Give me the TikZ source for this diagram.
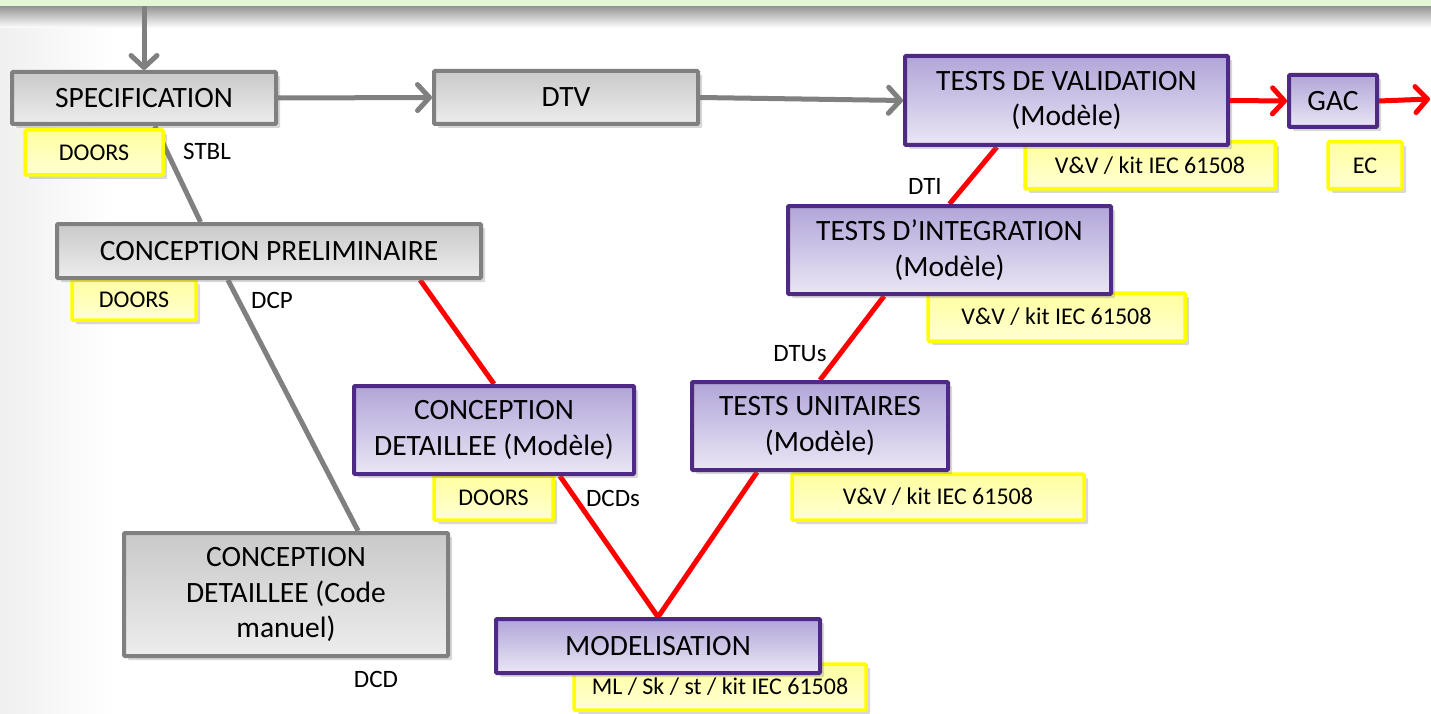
\documentclass[tikz,border=0pt]{standalone}
\usepackage{fontspec}
\setmainfont{Carlito}
\usetikzlibrary{arrows.meta,shadows,calc}
\definecolor{gbord}{HTML}{808080}
\definecolor{gtop}{HTML}{C9C9C9}
\definecolor{gbot}{HTML}{EDEDED}
\definecolor{pbord}{HTML}{4E2A84}
\definecolor{ptop}{HTML}{B1A5D8}
\definecolor{pbot}{HTML}{EAE6F5}
\definecolor{ybord}{HTML}{FFFF00}
\definecolor{ytop}{HTML}{FFFFA0}
\definecolor{ybot}{HTML}{FFFFD4}
\definecolor{bandgreen}{HTML}{E2F7D6}
\definecolor{redl}{HTML}{FF0000}
\pgfdeclarelayer{back}
\pgfdeclarelayer{lines}
\pgfdeclarelayer{notes}
\pgfsetlayers{back,lines,notes,main}
\begin{document}
\begin{tikzpicture}[x=1pt,y=-1pt,
 box/.style={draw, line width=4pt, inner sep=0pt, align=center, font=\fontsize{29.5}{35.5}\selectfont, rounded corners=1pt, drop shadow={shadow xshift=4pt,shadow yshift=-4pt,opacity=0.3}},
 graybox/.style={box, draw=gbord, top color=gtop, bottom color=gbot},
 purplebox/.style={box, draw=pbord, top color=ptop, bottom color=pbot},
 yellowbox/.style={box, draw=ybord, line width=3.5pt, top color=ytop, bottom color=ybot, font=\fontsize{24}{29}\selectfont},
 lbl/.style={font=\fontsize{25}{30}\selectfont, inner sep=0pt},
 grayline/.style={draw=gbord, line width=5pt},
 redline/.style={draw=redl, line width=5pt},
 garrow/.style={grayline, -{Straight Barb[length=12pt,width=26pt,round]}},
 rarrow/.style={redline, -{Straight Barb[length=12pt,width=26pt,round]}},
]
\useasboundingbox (0,0) rectangle (1431,714);
% background
\begin{pgfonlayer}{back}
\fill[white] (0,0) rectangle (1431,714);
\shade[left color=black!6, right color=white] (0,0) rectangle (115,714);
\shade[top color=black!42, bottom color=white] (0,6) rectangle (1431,28);
\fill[bandgreen] (0,0) rectangle (1431,6);
\end{pgfonlayer}

% named coordinates for free ends
\coordinate (topin) at (144,6);
\coordinate (rightout) at (1430,99);

% main boxes
\node[graybox, minimum width=264pt, minimum height=52pt] (spec) at (144,98) {SPECIFICATION};
\node[graybox, minimum width=264pt, minimum height=53pt] (dtv) at (566,97.5) {DTV};
\node[graybox, minimum width=424pt, minimum height=54pt] (cp) at (269,251) {CONCEPTION PRELIMINAIRE};
\node[graybox, minimum width=324pt, minimum height=123pt] (cdc) at (286,594.5) {CONCEPTION\\DETAILLEE (Code\\manuel)};
\node[purplebox, minimum width=280pt, minimum height=88pt] (cdm) at (494,430) {CONCEPTION\\DETAILLEE (Modèle)};
\node[purplebox, minimum width=324pt, minimum height=54pt] (mod) at (658,646) {MODELISATION};
\node[purplebox, minimum width=256pt, minimum height=88pt] (tu) at (820,426) {TESTS UNITAIRES\\(Modèle)};
\node[purplebox, minimum width=323pt, minimum height=88pt] (ti) at (949.5,250) {TESTS D’INTEGRATION\\(Modèle)};
\node[purplebox, minimum width=323pt, minimum height=89pt] (tv) at (1066.5,100.5) {TESTS DE VALIDATION\\(Modèle)};
\node[purplebox, minimum width=88pt, minimum height=52pt] (gac) at (1333,101) {GAC};

% yellow boxes (behind main boxes)
\begin{pgfonlayer}{notes}
\node[yellowbox, minimum width=138pt, minimum height=45pt] (y1) at (94,152.5) {DOORS};
\node[yellowbox, minimum width=124pt, minimum height=40pt] (y2) at (134,300) {DOORS};
\node[yellowbox, minimum width=250pt, minimum height=47pt] (y3) at (1150,165.5) {V\&V / kit IEC 61508};
\node[yellowbox, minimum width=74pt, minimum height=47pt] (y4) at (1365,165.5) {EC};
\node[yellowbox, minimum width=257pt, minimum height=48pt] (y5) at (1056.5,317) {V\&V / kit IEC 61508};
\node[yellowbox, minimum width=119pt, minimum height=44pt] (y6) at (493.5,498) {DOORS};
\node[yellowbox, minimum width=292pt, minimum height=46pt] (y7) at (938,497) {V\&V / kit IEC 61508};
\node[yellowbox, minimum width=292pt, minimum height=46pt] (y8) at (720,687) {ML / Sk / st / kit IEC 61508};
\end{pgfonlayer}

% connectors (behind boxes)
\begin{pgfonlayer}{lines}
\draw[grayline] ($(spec.south west)!0.54!(spec.south east)$) -- ($(cp.north west)!0.34!(cp.north east)$);
\draw[grayline] ($(cp.south west)!0.404!(cp.south east)$) -- ($(cdc.north west)!0.72!(cdc.north east)$);
\draw[redline] ($(cp.south west)!0.853!(cp.south east)$) -- (cdm.north);
\draw[redline, line join=miter] ($(cdm.south west)!0.732!(cdm.south east)$) -- (mod.north) -- ($(tu.south west)!0.258!(tu.south east)$);
\draw[redline] (tu.north) -- ($(ti.south west)!0.30!(ti.south east)$);
\draw[redline] (ti.north) -- ($(tv.south west)!0.287!(tv.south east)$);
\end{pgfonlayer}

% labels
\node[lbl] (stbl) at (207,151) {STBL};
\node[lbl] (dcp) at (272,300) {DCP};
\node[lbl] (dcd) at (376,679) {DCD};
\node[lbl] (dcds) at (613,498) {DCDs};
\node[lbl] (dtus) at (800,354) {DTUs};
\node[lbl] (dti) at (925,186) {DTI};

% arrows
\draw[garrow] (topin) -- (spec.north);
\draw[garrow] (spec.east) -- (dtv.west);
\draw[garrow] (dtv.east) -- (tv.west);
\draw[rarrow] (tv.east) -- (gac.west);
\draw[rarrow] (gac.east) -- (rightout);
\end{tikzpicture}
\end{document}
